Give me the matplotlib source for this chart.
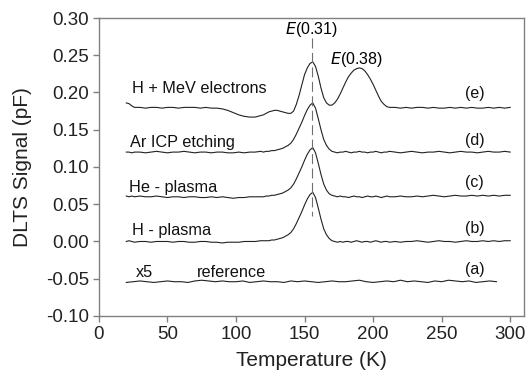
import numpy as np
import matplotlib
matplotlib.use("Agg")
import matplotlib.pyplot as plt

plt.rcParams['font.family'] = ['Liberation Sans', 'DejaVu Sans']
plt.rcParams['axes.unicode_minus'] = False

# temperature grid (K) shared by curves (b)-(e)
temp = [20, 22, 24, 26,
        30, 34, 38, 42, 46, 50, 54, 58, 62, 66, 70, 74, 78, 82, 86, 90, 94, 98,
        102, 106, 110, 114, 118,
        120, 122, 124, 126, 128, 130, 132, 134, 136, 138, 140, 142, 144, 146,
        148, 150, 152, 154, 156, 158, 160, 162, 164, 166, 168, 170, 172, 174,
        176, 178, 180, 182, 184, 186, 188, 190, 192, 194, 196, 198, 200, 202,
        204, 206, 208, 210, 212,
        216, 220, 224, 228, 232, 236, 240, 244, 248, 252, 256, 260, 264, 268,
        272, 276, 280, 284, 288, 292, 296, 300]

# (e) H + MeV electrons
sig_e = [0.186, 0.185, 0.182, 0.180,
         0.180, 0.179, 0.180, 0.180, 0.179, 0.180, 0.180, 0.179, 0.180, 0.180,
         0.180, 0.179, 0.180, 0.179, 0.179, 0.178, 0.176, 0.173, 0.170, 0.168,
         0.167, 0.167, 0.169,
         0.170, 0.172, 0.174, 0.175, 0.176, 0.176, 0.175, 0.174, 0.173, 0.172,
         0.172, 0.175, 0.184, 0.196, 0.210, 0.224, 0.233, 0.239, 0.241, 0.235,
         0.222, 0.206, 0.193, 0.186, 0.183, 0.183, 0.186, 0.191, 0.198, 0.206,
         0.214, 0.221, 0.226, 0.230, 0.232, 0.233, 0.232, 0.229, 0.224, 0.218,
         0.211, 0.203, 0.195, 0.188, 0.184, 0.181, 0.180,
         0.180, 0.179, 0.180, 0.179, 0.180, 0.180, 0.179, 0.180, 0.179, 0.179,
         0.180, 0.179, 0.180, 0.179, 0.180, 0.179, 0.179, 0.180, 0.179, 0.180,
         0.179, 0.180]

# (d) Ar ICP etching
sig_d = [0.120, 0.120, 0.119, 0.120,
         0.120, 0.119, 0.120, 0.121, 0.120, 0.119, 0.120, 0.120, 0.121, 0.120,
         0.119, 0.120, 0.120, 0.119, 0.120, 0.120, 0.119, 0.119, 0.120, 0.119,
         0.120, 0.120, 0.121,
         0.120, 0.121, 0.121, 0.122, 0.122, 0.123, 0.124, 0.125, 0.127, 0.129,
         0.132, 0.137, 0.144, 0.152, 0.160, 0.169, 0.177, 0.183, 0.186, 0.179,
         0.165, 0.150, 0.137, 0.129, 0.124, 0.121, 0.120, 0.119, 0.120, 0.120,
         0.121, 0.120, 0.119, 0.120, 0.120, 0.121, 0.120, 0.120, 0.119, 0.120,
         0.120, 0.121, 0.120, 0.119, 0.120, 0.120, 0.121,
         0.120, 0.119, 0.120, 0.121, 0.120, 0.119, 0.120, 0.120, 0.121, 0.120,
         0.119, 0.120, 0.121, 0.120, 0.120, 0.119, 0.120, 0.121, 0.120, 0.120,
         0.121, 0.120]

# (c) He - plasma
sig_c = [0.061, 0.060, 0.061, 0.060,
         0.061, 0.060, 0.060, 0.061, 0.060, 0.059, 0.060, 0.060, 0.059, 0.060,
         0.060, 0.059, 0.059, 0.060, 0.059, 0.060, 0.059, 0.058, 0.059, 0.059,
         0.060, 0.060, 0.060,
         0.060, 0.061, 0.061, 0.062, 0.062, 0.063, 0.064, 0.065, 0.067, 0.069,
         0.072, 0.077, 0.084, 0.092, 0.100, 0.109, 0.117, 0.123, 0.126, 0.119,
         0.105, 0.090, 0.077, 0.069, 0.064, 0.062, 0.061, 0.060, 0.061, 0.060,
         0.060, 0.059, 0.060, 0.061, 0.060, 0.060, 0.059, 0.060, 0.061, 0.060,
         0.060, 0.061, 0.060, 0.059, 0.060, 0.061, 0.060,
         0.060, 0.061, 0.060, 0.060, 0.061, 0.060, 0.061, 0.062, 0.061, 0.060,
         0.061, 0.062, 0.061, 0.061, 0.062, 0.061, 0.062, 0.061, 0.062, 0.061,
         0.062, 0.062]

# (b) H - plasma
sig_b = [0.000, 0.001, 0.000, -0.001,
         0.000, 0.000, -0.001, 0.000, 0.000, 0.000, -0.001, 0.000, 0.000, -0.001,
         -0.001, 0.000, 0.000, -0.001, -0.001, -0.002, -0.001, -0.001, -0.001, 0.000,
         0.000, 0.000, 0.001,
         0.001, 0.001, 0.001, 0.002, 0.002, 0.003, 0.004, 0.005, 0.007, 0.009,
         0.012, 0.017, 0.024, 0.032, 0.040, 0.049, 0.057, 0.063, 0.066, 0.059,
         0.045, 0.030, 0.017, 0.009, 0.004, 0.001, 0.000, -0.001, 0.000, -0.001,
         0.000, 0.000, -0.001, 0.000, 0.001, 0.000, -0.001, 0.000, 0.000, -0.001,
         0.000, 0.001, 0.000, -0.001, 0.000, 0.000, -0.001,
         0.000, -0.001, 0.000, 0.000, 0.001, 0.000, -0.001, 0.000, 0.001, 0.000,
         0.000, -0.001, 0.000, 0.001, 0.000, 0.000, 0.001, 0.000, 0.001, 0.000,
         0.001, 0.001]

# (a) reference, x5
temp_ref = [20, 25, 30, 35, 40, 45, 50, 55, 60, 65, 70, 75, 80, 85, 90, 95,
            100, 105, 110, 115, 120, 125, 130, 135, 140, 145, 150, 155, 160,
            165, 170, 175, 180, 185, 190, 195, 200, 205, 210, 215, 220, 225,
            230, 235, 240, 245, 250, 255, 260, 265, 270, 275, 280, 285, 290]
sig_a = [-0.055, -0.054, -0.053, -0.054, -0.055, -0.054, -0.053, -0.054,
         -0.054, -0.055, -0.053, -0.052, -0.053, -0.054, -0.053, -0.054,
         -0.054, -0.053, -0.055, -0.054, -0.053, -0.054, -0.054, -0.055,
         -0.053, -0.054, -0.053, -0.054, -0.055, -0.054, -0.053, -0.054,
         -0.054, -0.053, -0.052, -0.054, -0.055, -0.054, -0.053, -0.054,
         -0.052, -0.054, -0.053, -0.054, -0.055, -0.053, -0.054, -0.052,
         -0.053, -0.054, -0.053, -0.055, -0.054, -0.053, -0.054]

names = ["H + MeV electrons", "Ar ICP etching", "He - plasma", "H - plasma"]
name_pos = [(24.5, 0.206), (22.5, 0.133), (22, 0.073), (24, 0.015)]
tags = ["(e)", "(d)", "(c)", "(b)", "(a)"]
tag_y = [0.198, 0.136, 0.079, 0.018, -0.038]

fig = plt.figure(figsize=(5.26, 3.83), dpi=100)
ax = fig.add_axes([0.188, 0.175, 0.808, 0.778])

line_kw = dict(color='#222222', lw=0.8)
for s in [sig_e, sig_d, sig_c, sig_b]:
    ax.plot(temp, s, **line_kw)
ax.plot(temp_ref, sig_a, **line_kw)

# E(0.31) marker
ax.plot([155.5, 155.5], [0.273, 0.034], color='#707070', lw=0.8, dashes=(9, 4))

for n, (x, y) in zip(names, name_pos):
    ax.text(x, y, n, fontsize=11.7, va='center', ha='left', color='#111111')
ax.text(27, -0.041, "x5", fontsize=11.7, va='center', color='#111111')
ax.text(71.5, -0.041, "reference", fontsize=11.7, va='center', color='#111111')
for t, y in zip(tags, tag_y):
    ax.text(274, y, t, fontsize=11.5, va='center', ha='center', color='#111111')

ax.text(155, 0.285, r"$\it{E}$(0.31)", fontsize=11.5, ha='center', va='center')
ax.text(188, 0.244, r"$\it{E}$(0.38)", fontsize=11.5, ha='center', va='center')

ax.set_xlim(0, 310)
ax.set_ylim(-0.10, 0.30)
ax.set_xticks([0, 50, 100, 150, 200, 250, 300])
ax.set_yticks([-0.10, -0.05, 0.00, 0.05, 0.10, 0.15, 0.20, 0.25, 0.30])
ax.yaxis.set_major_formatter(matplotlib.ticker.FormatStrFormatter('%.2f'))

for sp in ax.spines.values():
    sp.set_color('#808080')
    sp.set_linewidth(1.0)
ax.tick_params(direction='out', length=4, width=1.0, color='#808080',
               labelsize=13.5, labelcolor='#222222', pad=3)

ax.set_xlabel("Temperature (K)", fontsize=15, color='#222222', labelpad=6)
ax.set_ylabel("DLTS Signal (pF)", fontsize=15, color='#222222', labelpad=10)

fig.savefig("out.png", dpi=100)
